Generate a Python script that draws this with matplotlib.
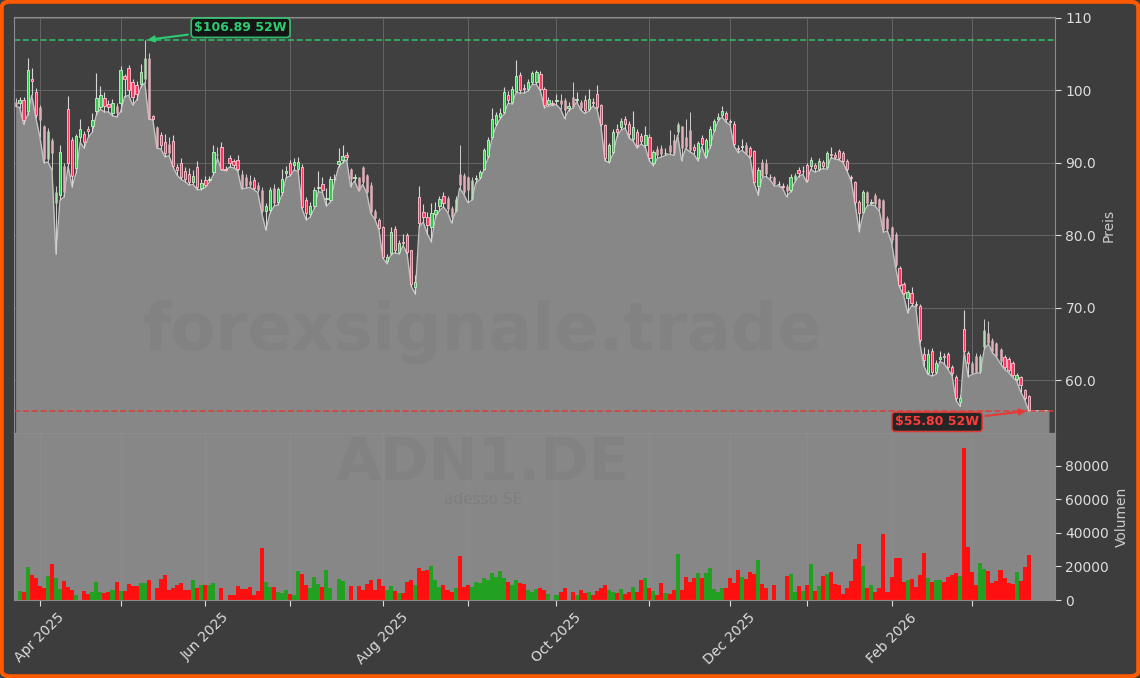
import matplotlib
matplotlib.use("Agg")
import matplotlib.pyplot as plt
import numpy as np
import pandas as pd
from matplotlib.patches import Rectangle, FancyBboxPatch
from matplotlib.ticker import FuncFormatter

TICKER = "ADN1.DE"
NAME = "adesso SE"
WATERMARK = "forexsignale.trade"

HOLIDAYS = ["2025-04-18", "2025-04-21", "2025-05-01", "2025-12-24",
            "2025-12-25", "2025-12-26", "2025-12-31", "2026-01-01"]

opens = [
    98.4, 98.2, 98.7, 97.2, 101.6, 99.8, 97.7, 95.0, 90.5, 93.1,
    84.5, 85.5, 89.5, 97.4, 93.1, 89.3, 93.5, 93.9, 94.6, 95.0,
    97.2, 97.7, 98.9, 98.1, 96.9, 97.8, 98.2, 101.9, 103.0, 101.1,
    100.7, 100.9, 101.5, 104.4, 96.4, 94.9, 93.8, 92.9, 92.6, 93.0,
    89.4, 89.9, 88.8, 88.5, 87.4, 89.4, 86.5, 87.6, 87.6, 88.7,
    91.2, 92.2, 89.2, 90.7, 90.2, 90.4, 88.5, 88.1, 87.5, 87.6,
    86.9, 86.2, 83.3, 83.5, 86.5, 84.6, 86.0, 88.6, 89.9, 89.7,
    89.1, 89.4, 84.9, 82.9, 84.0, 86.5, 87.0, 85.0, 84.8, 87.8,
    89.8, 90.4, 91.0, 89.2, 87.9, 88.0, 89.4, 88.3, 86.9, 83.4,
    82.1, 81.1, 76.4, 77.6, 80.8, 77.7, 79.1, 80.1, 77.9, 72.8,
    85.3, 83.2, 82.5, 81.1, 82.9, 84.0, 85.4, 85.2, 83.8, 83.4,
    88.5, 88.3, 88.0, 85.0, 87.7, 88.0, 89.2, 90.9, 93.6, 95.4,
    96.3, 97.0, 99.3, 98.4, 99.9, 102.1, 100.3, 100.1, 101.1, 101.1,
    102.3, 100.2, 98.1, 98.3, 98.5, 98.6, 98.7, 97.5, 99.1, 98.6,
    98.4, 98.6, 97.4, 98.4, 99.5, 97.9, 95.2, 90.3, 91.5, 94.7,
    94.9, 96.0, 95.4, 93.3, 94.3, 93.7, 92.4, 93.5, 89.9, 91.9,
    92.0, 91.3, 92.5, 93.2, 94.2, 95.0, 93.5, 94.5, 92.2, 90.6,
    93.4, 90.9, 92.4, 94.5, 96.1, 96.6, 96.8, 95.8, 95.4, 92.0,
    92.2, 92.5, 92.0, 91.6, 86.8, 90.1, 90.0, 88.1, 88.0, 87.0,
    86.8, 86.8, 86.3, 87.6, 89.0, 88.8, 89.7, 89.5, 89.7, 89.2,
    90.1, 89.4, 91.2, 91.0, 91.6, 91.4, 90.3, 88.0, 87.3, 84.6,
    83.2, 85.9, 84.5, 85.5, 85.0, 84.8, 82.4, 81.1, 80.2, 75.5,
    73.3, 71.3, 72.0, 70.5, 70.3, 63.6, 61.0, 64.1, 61.1, 63.0,
    63.3, 63.6, 61.8, 60.5, 57.0, 67.1, 63.7, 62.4, 63.4, 61.2,
    64.6, 66.5, 65.5, 65.1, 64.3, 63.2, 63.0, 62.4, 60.2, 60.4,
    58.6, 57.8,
]

highs = [
    98.9, 99.0, 99.0, 104.4, 103.0, 100.3, 98.0, 95.2, 94.8, 93.4,
    86.8, 92.5, 90.0, 99.2, 93.5, 94.0, 96.1, 94.4, 95.0, 96.8,
    102.4, 100.6, 99.8, 98.7, 98.8, 98.2, 103.3, 102.2, 103.5, 101.6,
    101.3, 103.6, 106.89, 105.2, 96.6, 95.0, 94.2, 94.0, 93.6, 93.8,
    89.8, 90.7, 89.4, 89.3, 89.0, 90.3, 87.8, 88.2, 88.2, 92.5,
    92.2, 92.8, 89.5, 91.1, 90.5, 91.0, 89.0, 88.4, 88.3, 88.1,
    87.3, 86.6, 84.5, 86.6, 87.0, 86.6, 89.2, 89.6, 90.4, 90.6,
    90.8, 89.8, 85.3, 84.6, 86.6, 88.8, 88.0, 86.5, 88.2, 88.4,
    92.0, 92.4, 91.5, 89.3, 88.5, 88.1, 89.5, 88.4, 87.4, 83.6,
    82.4, 81.3, 77.4, 81.2, 81.3, 79.3, 80.2, 80.3, 78.0, 74.5,
    86.8, 84.3, 83.2, 84.5, 84.6, 85.4, 85.9, 85.4, 84.0, 85.4,
    92.5, 88.6, 88.2, 88.0, 88.3, 89.0, 92.0, 93.5, 97.6, 97.0,
    97.6, 100.4, 99.9, 100.6, 104.2, 102.5, 100.8, 101.5, 102.7, 102.8,
    102.6, 100.4, 99.0, 98.7, 99.5, 99.5, 98.9, 98.4, 101.1, 99.8,
    98.7, 99.3, 100.2, 98.9, 100.7, 98.1, 95.4, 92.7, 94.7, 95.3,
    96.2, 96.5, 95.8, 97.1, 94.6, 94.1, 95.0, 93.9, 91.8, 92.3,
    92.5, 92.0, 94.5, 94.0, 95.6, 95.1, 96.0, 97.0, 92.6, 93.0,
    93.8, 93.4, 95.0, 96.0, 96.8, 97.8, 97.2, 96.1, 95.7, 92.4,
    93.3, 92.8, 92.3, 91.8, 89.4, 90.5, 90.5, 88.5, 88.2, 87.5,
    87.2, 87.0, 88.4, 88.6, 89.4, 89.5, 90.0, 90.8, 90.0, 90.6,
    90.4, 91.6, 92.2, 91.5, 91.9, 91.6, 90.5, 88.3, 87.5, 84.8,
    86.2, 86.1, 85.0, 85.8, 85.2, 85.0, 82.6, 81.3, 80.4, 75.7,
    73.5, 72.5, 72.8, 70.9, 70.5, 64.6, 64.3, 64.4, 62.8, 64.0,
    63.8, 63.9, 62.1, 60.7, 58.0, 69.7, 64.0, 62.6, 63.7, 63.6,
    68.4, 68.2, 65.8, 65.3, 64.5, 63.5, 63.2, 62.6, 61.0, 60.6,
    58.8, 58.0,
]

lows = [
    97.8, 97.6, 95.3, 96.6, 99.3, 96.2, 93.6, 90.0, 90.1, 89.0,
    77.4, 84.8, 85.3, 89.5, 86.7, 88.6, 92.8, 92.0, 93.5, 94.2,
    96.6, 97.4, 97.0, 97.0, 96.5, 96.3, 97.0, 99.1, 99.3, 98.0,
    98.6, 100.4, 101.0, 96.0, 95.9, 92.0, 91.9, 90.8, 91.0, 89.4,
    88.3, 87.7, 87.4, 86.9, 87.0, 86.3, 86.3, 86.6, 87.3, 88.3,
    90.6, 89.0, 88.9, 89.4, 89.3, 88.9, 86.4, 86.5, 86.6, 86.3,
    85.9, 83.0, 80.7, 83.0, 84.0, 84.2, 85.6, 87.9, 88.2, 89.0,
    88.8, 83.6, 82.1, 82.5, 83.7, 86.0, 85.9, 84.0, 84.6, 87.3,
    89.4, 90.0, 90.4, 86.7, 87.5, 86.1, 87.0, 85.8, 83.0, 82.2,
    80.8, 76.8, 76.1, 77.3, 77.6, 77.4, 78.6, 77.4, 73.0, 71.9,
    81.2, 81.8, 80.2, 79.1, 82.4, 83.4, 83.9, 83.2, 81.7, 83.2,
    86.5, 85.7, 84.5, 84.8, 87.2, 87.7, 89.0, 90.6, 93.3, 95.0,
    96.0, 96.7, 98.2, 98.1, 99.7, 99.6, 99.6, 99.9, 100.8, 100.8,
    99.9, 97.6, 97.8, 97.9, 98.0, 97.4, 96.1, 97.2, 97.5, 98.4,
    97.3, 96.8, 97.1, 97.8, 97.4, 95.1, 90.3, 90.0, 91.2, 93.6,
    94.5, 94.8, 93.4, 93.0, 92.0, 92.6, 92.1, 90.3, 89.6, 90.6,
    90.8, 91.0, 91.2, 91.0, 93.8, 90.3, 92.0, 91.5, 91.2, 90.3,
    92.2, 90.6, 92.1, 94.2, 95.7, 96.3, 95.6, 95.2, 92.3, 91.4,
    91.7, 91.2, 90.6, 87.1, 85.5, 88.0, 88.1, 87.6, 86.8, 86.8,
    86.5, 85.3, 86.0, 87.3, 88.1, 88.4, 87.3, 89.1, 88.7, 88.9,
    89.2, 89.1, 90.7, 90.5, 90.4, 90.0, 88.8, 87.5, 84.2, 80.5,
    83.0, 84.1, 84.2, 84.0, 83.3, 80.4, 80.6, 79.0, 75.6, 72.8,
    71.7, 69.3, 70.3, 70.1, 65.2, 62.0, 60.8, 60.6, 60.8, 62.6,
    62.3, 61.5, 60.6, 57.2, 56.4, 63.9, 60.5, 60.8, 61.0, 61.0,
    64.3, 65.0, 63.8, 63.2, 62.3, 61.5, 61.1, 60.4, 59.9, 58.4,
    57.3, 55.80,
]

closes = [
    97.9, 98.6, 95.9, 102.8, 101.3, 96.6, 95.9, 90.5, 94.4, 91.3,
    86.0, 91.5, 86.0, 90.0, 88.2, 93.7, 94.7, 92.9, 94.4, 95.9,
    98.9, 99.3, 97.8, 97.7, 98.2, 96.8, 102.8, 101.6, 100.0, 99.1,
    99.5, 102.5, 104.5, 96.1, 96.1, 92.2, 92.4, 91.3, 91.4, 89.6,
    89.0, 88.0, 87.8, 87.4, 88.2, 86.6, 87.2, 86.9, 87.8, 91.5,
    91.0, 89.1, 89.0, 89.9, 89.7, 89.1, 86.6, 86.8, 86.9, 86.5,
    86.2, 83.3, 84.0, 86.2, 84.4, 86.4, 87.8, 88.8, 88.5, 90.1,
    90.1, 83.9, 83.0, 84.0, 86.3, 86.6, 86.3, 85.1, 87.8, 87.7,
    90.3, 90.9, 90.8, 87.8, 88.1, 86.3, 87.4, 86.0, 83.2, 82.4,
    81.0, 77.0, 77.0, 80.5, 77.9, 78.9, 79.0, 77.7, 73.3, 73.6,
    81.7, 82.5, 81.4, 83.0, 83.5, 85.0, 84.4, 83.6, 82.5, 85.0,
    86.9, 86.0, 86.2, 87.6, 87.9, 88.7, 91.7, 93.1, 96.1, 96.6,
    96.9, 99.8, 98.6, 100.1, 101.9, 100.0, 100.1, 101.1, 102.4, 102.5,
    100.2, 97.9, 98.6, 98.1, 98.7, 98.1, 97.3, 97.8, 97.7, 98.8,
    97.5, 97.3, 98.8, 98.2, 97.7, 95.4, 90.6, 92.4, 94.3, 94.3,
    95.8, 95.3, 94.0, 94.9, 92.4, 93.0, 93.8, 90.6, 91.5, 91.0,
    91.2, 91.4, 91.5, 91.3, 95.3, 92.0, 92.2, 91.7, 91.7, 92.7,
    92.6, 93.1, 94.6, 95.8, 96.3, 97.2, 96.1, 95.6, 92.6, 91.9,
    92.3, 91.4, 90.9, 87.4, 89.0, 88.2, 88.4, 88.0, 87.0, 87.1,
    86.7, 86.1, 88.1, 88.3, 88.6, 88.9, 87.6, 90.4, 89.3, 90.3,
    89.5, 91.4, 91.1, 90.8, 90.7, 90.3, 89.1, 87.9, 84.6, 83.1,
    85.9, 84.4, 84.6, 84.3, 83.7, 80.7, 80.9, 79.3, 75.9, 73.1,
    72.0, 72.2, 70.6, 70.4, 65.5, 62.8, 63.6, 61.1, 62.4, 63.2,
    63.2, 61.8, 61.0, 57.5, 57.6, 64.1, 62.4, 61.0, 61.2, 63.3,
    66.9, 65.2, 64.0, 63.4, 62.6, 61.8, 61.4, 60.7, 60.7, 59.3,
    57.5, 55.95,
]

volumes = [
    0, 5400, 4800, 19900, 15000, 13300, 8400, 7200, 14300, 21500,
    13100, 6600, 11300, 7800, 6000, 3000, 0, 5400, 3600, 4800,
    10700, 4800, 4400, 4800, 6000, 10700, 5400, 5400, 9500, 8400,
    8400, 10100, 10100, 11900, 0, 7200, 12500, 15000, 6000, 7200,
    9000, 10100, 6000, 6000, 11900, 7200, 9000, 9000, 9000, 10100,
    0, 7200, 0, 3000, 3000, 8400, 6600, 6600, 7800, 3000,
    5400, 31000, 10700, 7800, 7800, 4800, 4200, 6000, 3600, 3000,
    17300, 15500, 9000, 7200, 13700, 9500, 7800, 17900, 7200, 0,
    12500, 11300, 0, 8400, 0, 8400, 6000, 9500, 11900, 6000,
    12500, 8400, 6000, 8400, 5400, 4000, 4000, 11000, 12000, 9000,
    19000, 17000, 18000, 20000, 12000, 8000, 9000, 6000, 5000, 7000,
    26000, 8000, 9000, 8000, 11000, 10000, 13000, 12000, 16000, 14000,
    17000, 13000, 11000, 9000, 12000, 10000, 9500, 6000, 5000, 6500,
    7000, 6000, 3500, 0, 3000, 4500, 7000, 0, 5000, 3000,
    6000, 4000, 4500, 3000, 5500, 7000, 9000, 6000, 5000, 4000,
    6500, 3500, 5000, 7500, 5000, 12000, 13000, 7000, 5500, 3000,
    10000, 4000, 3500, 6000, 27500, 6000, 14000, 11000, 13000, 16000,
    12900, 15900, 18900, 6600, 4600, 7000, 7000, 12900, 10000, 17900,
    13900, 12700, 16500, 15500, 23900, 9600, 7000, 0, 9000, 0,
    0, 14300, 15500, 5000, 8400, 5600, 9000, 21500, 5400, 8400,
    14300, 15500, 16500, 9600, 9000, 3600, 7200, 11300, 24500, 33400,
    20300, 7200, 9000, 5000, 7200, 39400, 5000, 13500, 25100, 25100,
    10900, 11900, 12500, 8000, 15100, 28300, 13300, 10900, 11900, 11900,
    10900, 13900, 14700, 15900, 14500, 90500, 31800, 16500, 9000, 21900,
    18300, 17300, 10000, 11300, 17900, 13300, 10300, 9600, 16500, 11500,
    19500, 26900,
]

# candles drawn as thin pale strokes in the reference
faded = {0, 6, 7, 8, 9, 10, 12, 25, 32, 33, 35, 38, 50, 56, 57, 58, 60, 61, 64,
         83, 85, 86, 87, 88, 89, 107, 108, 109, 110, 111, 112, 113, 135, 136,
         138, 140, 159, 160, 162, 163, 164, 165, 166, 167, 181, 185, 186, 188,
         191, 193, 211, 213, 214, 215, 216, 217, 218, 237, 238, 239, 240, 241,
         242, 243, 244}

BG = "#3d3d3d"
AX_BG = "#404040"
FILL = "#878787"
TXT = "#dddddd"
UP_FACE, UP_EDGE = "#3cc457", "#c9f3c9"
DN_FACE, DN_EDGE = "#ff3862", "#ffc6d1"
PALE_UP, PALE_DN = "#b3d9b6", "#e0b0ba"
WICK = "#d6d6d6"
VOL_UP, VOL_DN = "#22a022", "#ff1010"

dates = pd.bdate_range("2025-03-24", "2026-03-20")
dates = dates[~dates.isin(pd.to_datetime(HOLIDAYS))]
n = min(len(dates), len(closes))
x = np.arange(n)

W, H = 1140, 678
fig = plt.figure(figsize=(W / 100, H / 100), dpi=100)
fig.patch.set_facecolor(BG)
ax = fig.add_axes([14 / W, 1 - 433 / H, 1041 / W, 416 / H])
axv = fig.add_axes([14 / W, 1 - 600 / H, 1041 / W, 167 / H], sharex=ax)
ax.set_facecolor(AX_BG)
axv.set_facecolor(FILL)

lo = np.array(lows[:n])
hi = np.array(highs[:n])
ymin, ymax = lo.min() * 0.945, hi.max() * 1.03

# area under the daily lows, carried a few slots past the last bar
fx = np.append(x, n + 4)
fl = np.append(lo, lo[-1])
ax.fill_between(fx, fl, ymin, color=FILL, lw=0, zorder=1)
ax.plot(fx, fl, color="#c2c2c2", lw=1.0, zorder=2)

for i in range(n):
    o, h, l, c = opens[i], highs[i], lows[i], closes[i]
    up = c >= o
    if i in faded:
        ax.vlines(i, l, h, color="#cfcfcf", lw=0.7, zorder=3)
        ax.vlines(i, min(o, c), max(o, c), color=PALE_UP if up else PALE_DN,
                  lw=1.8, zorder=3.5)
        continue
    ax.vlines(i, l, h, color=WICK, lw=0.8, zorder=3)
    ax.add_patch(Rectangle((i - 0.3, min(o, c)), 0.6, max(abs(c - o), 0.08),
                           facecolor=UP_FACE if up else DN_FACE,
                           edgecolor=UP_EDGE if up else DN_EDGE,
                           lw=0.6, zorder=4))

ihi = int(np.argmax(hi))
ilo = int(np.argmin(lo))
ax.axhline(hi[ihi], color="#2ecc71", ls="--", lw=1.2, alpha=0.85, zorder=2.5)
ax.axhline(lo[ilo], color="#e53935", ls="--", lw=1.2, alpha=0.85, zorder=2.5)

ax.annotate(f"${hi[ihi]:.2f} 52W", xy=(ihi, hi[ihi]), xytext=(69, 9),
            textcoords="offset points", ha="center", va="center",
            color="#2ecc71", fontsize=9, fontweight="bold",
            bbox=dict(boxstyle="round,pad=0.25", facecolor="#111111",
                      edgecolor="#2ecc71", lw=1.2, alpha=0.9),
            arrowprops=dict(arrowstyle="-|>", color="#2ecc71", lw=1.5),
            zorder=6)
ax.annotate(f"${lo[ilo]:.2f} 52W", xy=(ilo, lo[ilo]), xytext=(-66, -8),
            textcoords="offset points", ha="center", va="center",
            color="#ff3b3b", fontsize=9, fontweight="bold",
            bbox=dict(boxstyle="round,pad=0.25", facecolor="#1a1a1a",
                      edgecolor="#e53935", lw=1.2, alpha=0.9),
            arrowprops=dict(arrowstyle="-|>", color="#e53935", lw=1.5),
            zorder=6)

ax.set_xlim(-0.4, n + 5.5)
ax.set_ylim(ymin, ymax)
ax.set_yticks([60, 70, 80, 90, 100, 110])
ax.yaxis.set_major_formatter(FuncFormatter(
    lambda v, _: f"{v:.0f}" if v >= 100 else f"{v:.1f}"))
ax.yaxis.tick_right()
ax.yaxis.set_label_position("right")
ax.set_ylabel("Preis", color="#cccccc", fontsize=10)
ax.tick_params(axis="y", colors=TXT, labelsize=10, length=4)
ax.tick_params(axis="x", labelbottom=False, length=0)
ax.grid(True, color="#666666", lw=0.7, zorder=0)
ax.set_axisbelow(True)

vcol = [VOL_UP if closes[i] >= opens[i] else VOL_DN for i in range(n)]
axv.bar(x, volumes[:n], width=1.0, color=vcol, lw=0, zorder=2)
axv.set_ylim(0, max(volumes[:n]) * 1.1)
axv.set_yticks([0, 20000, 40000, 60000, 80000])
axv.yaxis.tick_right()
axv.yaxis.set_label_position("right")
axv.set_ylabel("Volumen", color="#cccccc", fontsize=10)
axv.tick_params(axis="y", colors=TXT, labelsize=10, length=4)
axv.grid(True, axis="x", color="#9a9a9a", lw=0.6, alpha=0.3, zorder=0)
axv.set_axisbelow(True)

starts = [i for i in range(1, n) if dates[i].month != dates[i - 1].month]
axv.set_xticks(starts)
axv.set_xticklabels([dates[i].strftime("%b %Y") if dates[i].month % 2 == 0 else ""
                     for i in starts], rotation=45)
axv.tick_params(axis="x", colors=TXT, labelsize=10, length=4)

for a in (ax, axv):
    for s in a.spines.values():
        s.set_color("#8c8c8c")

wm = dict(ha="center", va="center", color="#444444", alpha=0.075, fontweight="bold")
fig.text(483 / W, 1 - 332 / H, WATERMARK, fontsize=47, **wm)
fig.text(483 / W, 1 - 464 / H, TICKER, fontsize=42, **wm)
fig.text(483 / W, 1 - 499 / H, NAME, fontsize=11, ha="center", va="center",
         color="#444444", alpha=0.12)

fig.patches.append(FancyBboxPatch((0.0015, 0.0025), 0.997, 0.995,
                                  boxstyle="round,pad=0,rounding_size=0.008",
                                  transform=fig.transFigure, fill=False,
                                  edgecolor="#ff5a00", lw=3))

fig.savefig("out.png", dpi=100, facecolor=fig.get_facecolor())
